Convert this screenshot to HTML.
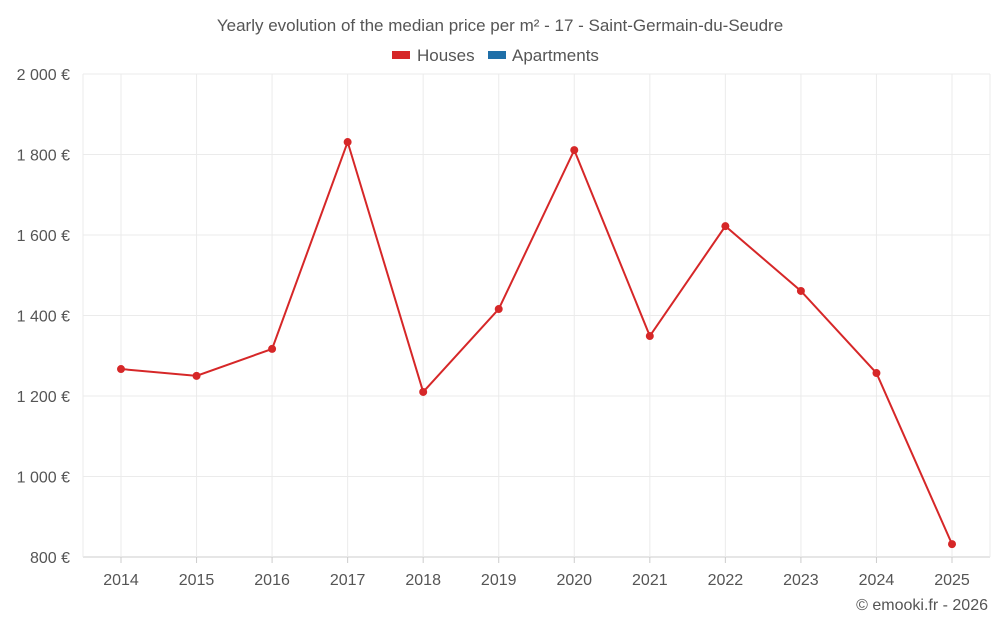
<!DOCTYPE html>
<html><head><meta charset="utf-8"><style>
body{margin:0;background:#fff;font-family:"Liberation Sans",sans-serif}
svg text{font-family:"Liberation Sans",sans-serif;fill:#555}
</style></head><body>
<svg id="chart" width="1000" height="625">
<text x="500" y="31" text-anchor="middle" font-size="17">Yearly evolution of the median price per m² - 17 - Saint-Germain-du-Seudre</text>
<g><rect x="392" y="51" width="18" height="8" fill="#d62728"/><text x="417" y="61" font-size="17">Houses</text></g>
<g><rect x="488" y="51" width="18" height="8" fill="#1f6fa8"/><text x="512" y="61" font-size="17">Apartments</text></g>
<g id="grid"></g><g id="axes"></g><g id="series"></g>
<text x="988" y="610" text-anchor="end" font-size="16">© emooki.fr - 2026</text>
</svg>
<script>
const years=["2014","2015","2016","2017","2018","2019","2020","2021","2022","2023","2024","2025"];
const houses=[1267,1250,1317,1831,1210,1416,1811,1349,1622,1461,1257,832];
const yTicks=[800,1000,1200,1400,1600,1800,2000];
const yTickLabels=["800 €","1 000 €","1 200 €","1 400 €","1 600 €","1 800 €","2 000 €"];
const NS="http://www.w3.org/2000/svg";
const L=83,R=990,T=74,B=557;
const x=i=>121+i*(952-121)/(years.length-1);
const y=v=>B-(v-800)/(2000-800)*(B-T);
function mk(tag,attrs,parent,text){const e=document.createElementNS(NS,tag);for(const k in attrs)e.setAttribute(k,attrs[k]);if(text!==undefined)e.textContent=text;document.getElementById(parent).appendChild(e);return e;}
yTicks.forEach((t,i)=>{
 const g=mk('line',{x1:L,x2:R,y1:y(t),y2:y(t),stroke:i===0?'#ccc':'#ebebeb'},'grid');
 
 
 const tx=mk('text',{x:70,y:y(t)+6,'text-anchor':'end','font-size':16},'axes',yTickLabels[i]);
 
 
});
[L,R].forEach(px=>{const e=mk('line',{x1:px,x2:px,y1:T,y2:B,stroke:'#ebebeb'},'grid');
 
 });
years.forEach((yr,i)=>{
 const g=mk('line',{x1:x(i),x2:x(i),y1:T,y2:B,stroke:'#ebebeb'},'grid');
 
 
 const tk=mk('line',{x1:x(i),x2:x(i),y1:B,y2:B+6,stroke:'#ccc'},'axes');
 
 
 const tx=mk('text',{x:x(i),y:585,'text-anchor':'middle','font-size':16},'axes',yr);
 
 
});
const line=mk('polyline',{points:houses.map((v,i)=>x(i)+','+y(v)).join(' '),fill:'none',stroke:'#d62728','stroke-width':2},'series');


houses.forEach((v,i)=>{
 const c=mk('circle',{cx:x(i),cy:y(v),r:4,fill:'#d62728'},'series');
 
 
});
</script>
</body></html>
